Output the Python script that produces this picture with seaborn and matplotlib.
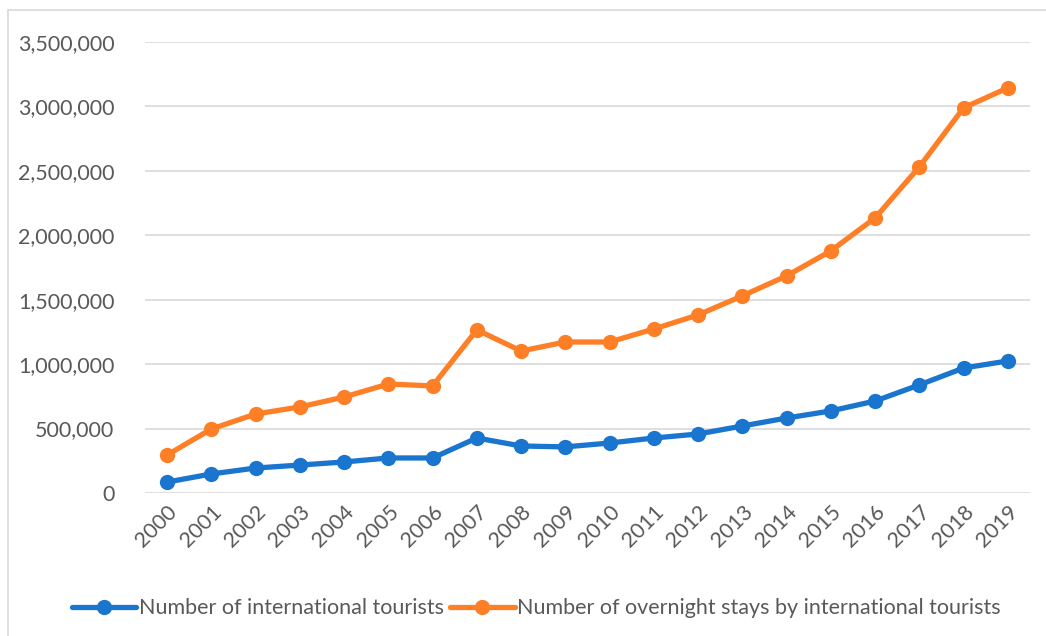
#!/usr/bin/env python3
"""
International tourists and overnight stays, 2000-2019.
"""

import pandas as pd
import matplotlib.pyplot as plt
import seaborn as sns
from matplotlib.ticker import FuncFormatter
from matplotlib.patches import Rectangle

years = [str(y) for y in range(2000, 2020)]
tourists = [85000, 148000, 194000, 217000, 241000, 272000, 272000, 427000, 365000, 358000,
            388000, 427000, 458000, 520000, 582000, 637000, 714000, 839000, 970000, 1025000]
overnight = [295000, 497000, 613000, 668000, 745000, 846000, 831000, 1266000, 1102000, 1172000,
             1172000, 1273000, 1382000, 1530000, 1685000, 1879000, 2135000, 2531000, 2989000, 3144000]
series_names = ["Number of international tourists",
                "Number of overnight stays by international tourists"]
colors = ["#1a75cf", "#ff7f27"]

sns.set_style("white")
plt.rcParams["font.family"] = ["Lato", "DejaVu Sans"]

df = pd.DataFrame({
    "year": years * 2,
    "value": tourists + overnight,
    "series": [series_names[0]] * len(years) + [series_names[1]] * len(years),
})

fig = plt.figure(figsize=(10.46, 6.36), dpi=100)
ax = fig.add_axes([0.1386, 0.2248, 0.8461, 0.7092])

# chart frame like the original
fig.patches.append(Rectangle((8 / 1046, -0.1), 1.2, 1 - 10 / 636 + 0.1,
                             transform=fig.transFigure, fill=False,
                             edgecolor="#d9d9d9", linewidth=1.2))

sns.lineplot(data=df, x="year", y="value", hue="series", palette=colors,
             marker="o", markersize=11, markeredgewidth=0, linewidth=3.8,
             sort=False, ax=ax)

ax.set_ylim(0, 3500000)
ax.set_xlim(-0.5, len(years) - 0.5)
ax.set_yticks(range(0, 3500001, 500000))
ax.yaxis.set_major_formatter(FuncFormatter(lambda v, p: f"{int(v):,}"))
ax.grid(axis="y", color="#d9d9d9", linewidth=1.2)
ax.set_axisbelow(True)
for s in ax.spines.values():
    s.set_visible(False)
ax.tick_params(axis="both", length=0, labelsize=15.5, labelcolor="#595959")
ax.tick_params(axis="y", pad=22)
ax.tick_params(axis="x", pad=6)
plt.setp(ax.get_xticklabels(), rotation=45, ha="right", rotation_mode="anchor")
ax.set_xlabel("")
ax.set_ylabel("")

leg = ax.legend(loc="upper center", bbox_to_anchor=(0.442, -0.19), ncol=2, frameon=False,
                fontsize=15.5, handlelength=3.0, handletextpad=0.1, columnspacing=0.3)
for t in leg.get_texts():
    t.set_color("#595959")

fig.savefig("out.png", dpi=100)
plt.close(fig)
